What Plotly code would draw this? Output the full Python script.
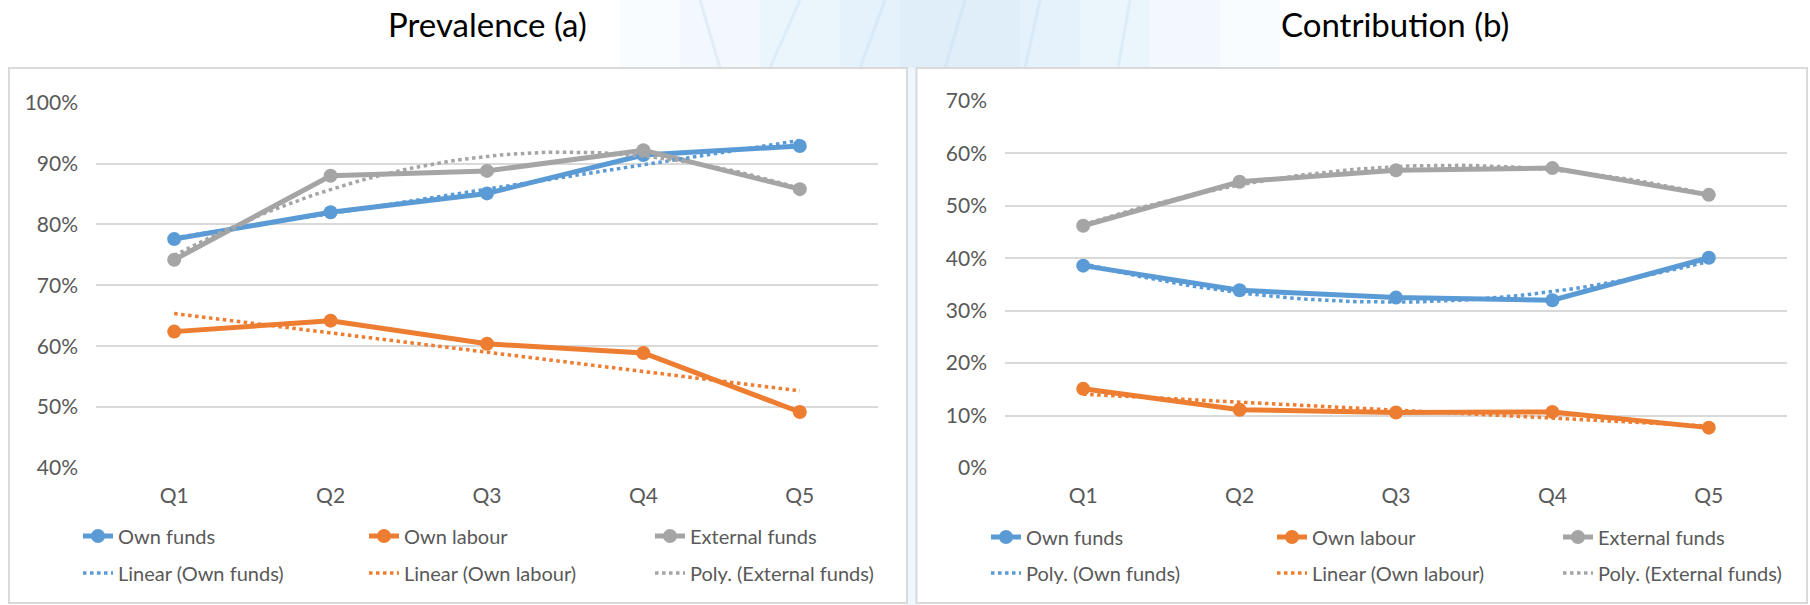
import numpy as np
import plotly.graph_objects as go

# ---------------- data ----------------
quintiles = ["Q1", "Q2", "Q3", "Q4", "Q5"]

prev_own_funds = [77.6, 82.0, 85.1, 91.4, 92.9]
prev_own_labour = [62.4, 64.2, 60.4, 58.9, 49.2]
prev_external = [74.2, 88.0, 88.8, 92.2, 85.8]

contrib_own_funds = [38.6, 33.9, 32.5, 32.0, 40.1]
contrib_own_labour = [15.1, 11.1, 10.6, 10.7, 7.7]
contrib_external = [46.2, 54.6, 56.8, 57.2, 52.1]

prev_ticks = [40, 50, 60, 70, 80, 90, 100]
contrib_ticks = [0, 10, 20, 30, 40, 50, 60, 70]

series_names = ["Own funds", "Own labour", "External funds"]
colors = ["#5B9BD5", "#ED7D31", "#A5A5A5"]

W, H = 1810, 605
FONT = "Lato"


def px(x, y):
    return x / W, 1 - y / H


def trend(values, order):
    """Excel-like least-squares trendline over x = 1..n."""
    n = len(values)
    xs = np.arange(1, n + 1)
    coef = np.polyfit(xs, values, order)
    xd = np.linspace(1, n, 80)
    return xd - 1, np.polyval(coef, xd)


xpos = list(range(len(quintiles)))

fig = go.Figure()

panels = [
    dict(xa="x", ya="y", data=[prev_own_funds, prev_own_labour, prev_external],
         trends=[("Linear", 1), ("Linear", 1), ("Poly.", 2)], lg=("legend", "legend2")),
    dict(xa="x2", ya="y2", data=[contrib_own_funds, contrib_own_labour, contrib_external],
         trends=[("Poly.", 2), ("Linear", 1), ("Poly.", 2)], lg=("legend3", "legend4")),
]

for p in panels:
    for name, vals, col in zip(series_names, p["data"], colors):
        fig.add_trace(go.Scatter(
            x=xpos, y=vals, name=name, mode="lines+markers",
            line=dict(color=col, width=5), marker=dict(color=col, size=14),
            xaxis=p["xa"], yaxis=p["ya"], legend=p["lg"][0],
            hovertemplate="%{y:.1f}%<extra>" + name + "</extra>"))
    for name, vals, col, (kind, order) in zip(series_names, p["data"], colors, p["trends"]):
        tx, ty = trend(vals, order)
        fig.add_trace(go.Scatter(
            x=tx, y=ty, name=f"{kind} ({name})", mode="lines",
            line=dict(color=col, width=3.5, dash="dot"),
            xaxis=p["xa"], yaxis=p["ya"], legend=p["lg"][1], hoverinfo="skip"))

# ---------------- axes ----------------
ydom = [1 - 468 / H, 1 - 102.7 / H]
ydom2 = [1 - 468 / H, 1 - 101 / H]
tickfont = dict(family=FONT, size=21, color="#595959")
common_x = dict(tickmode="array", tickvals=xpos, ticktext=quintiles, range=[-0.5, 4.5],
                showgrid=False, zeroline=False, showline=False, ticks="",
                tickfont=tickfont, ticklabelstandoff=13, fixedrange=True)
common_y = dict(tickmode="array", showgrid=True, gridcolor="#d9d9d9",
                gridwidth=2, zeroline=False, showline=False, ticks="",
                tickfont=tickfont, ticklabelstandoff=17, fixedrange=True)

fig.update_layout(
    xaxis=dict(domain=[96 / W, 878 / W], anchor="y", **common_x),
    yaxis=dict(domain=ydom, anchor="x", range=[40, 100], tickvals=prev_ticks,
               ticktext=[f"{v}%" for v in prev_ticks], **common_y),
    xaxis2=dict(domain=[1005 / W, 1787 / W], anchor="y2", **common_x),
    yaxis2=dict(domain=ydom2, anchor="x2", range=[0, 70], tickvals=contrib_ticks,
                ticktext=[f"{v}%" for v in contrib_ticks], **common_y),
)

# ---------------- legends ----------------
legfont = dict(family=FONT, size=20, color="#595959")


def leg(xp, yp):
    return dict(x=xp / W, y=1 - yp / H, xanchor="left", yanchor="middle",
                orientation="h", font=legfont, bgcolor="rgba(0,0,0,0)",
                entrywidth=241, entrywidthmode="pixels", itemwidth=30,
                itemclick=False, itemdoubleclick=False)


fig.update_layout(
    legend=leg(78, 536), legend2=leg(78, 573),
    legend3=leg(986, 537), legend4=leg(986, 573),
)

# ---------------- background shapes ----------------
shapes = []
# faint, soft watermark above the charts (layered translucent bands)
for (l, r, a) in [(620, 1280, 0.10), (680, 1220, 0.12), (760, 1150, 0.14), (840, 1080, 0.16), (900, 1020, 0.16)]:
    p0 = px(l, 0); p1 = px(r, 68)
    shapes.append(dict(type="rect", xref="paper", yref="paper", x0=p0[0], y0=p1[1], x1=p1[0], y1=p0[1],
                       fillcolor=f"rgba(200,224,246,{a})", line_width=0, layer="below"))
for xa, xb in [(700, 720), (800, 770), (885, 860), (965, 945), (1040, 1025), (1130, 1118)]:
    a = px(xa, 0); b = px(xb, 68)
    shapes.append(dict(type="line", xref="paper", yref="paper", x0=a[0], y0=a[1], x1=b[0], y1=b[1],
                       line=dict(color="rgba(185,214,240,0.30)", width=3), layer="below"))
# gap strip between panels
a = px(907, 68); b = px(916, 605)
shapes.append(dict(type="rect", xref="paper", yref="paper", x0=a[0], y0=b[1], x1=b[0], y1=a[1],
                   fillcolor="rgba(228,240,250,0.6)", line_width=0, layer="below"))
# panel frames
for (l, r) in [(9, 907), (916.5, 1807)]:
    a = px(l, 68); b = px(r, 603)
    shapes.append(dict(type="rect", xref="paper", yref="paper", x0=a[0], y0=b[1], x1=b[0], y1=a[1],
                       fillcolor="white", line=dict(color="#d9d9d9", width=2), layer="below"))
fig.update_layout(shapes=shapes)

# ---------------- titles ----------------
titlefont = dict(family=FONT, size=33, color="#000000")
fig.add_annotation(text="Prevalence (a)", x=487 / W, y=1 - 24 / H, xref="paper", yref="paper",
                   xanchor="center", yanchor="middle", showarrow=False, font=titlefont)
fig.add_annotation(text="Contribution (b)", x=1395 / W, y=1 - 24 / H, xref="paper", yref="paper",
                   xanchor="center", yanchor="middle", showarrow=False, font=titlefont)

fig.update_layout(
    width=W, height=H, margin=dict(l=0, r=0, t=0, b=0, autoexpand=False),
    paper_bgcolor="white", plot_bgcolor="rgba(0,0,0,0)",
    font=dict(family=FONT), hovermode="closest",
)

fig.write_html(
    "out.html",
    config={"displayModeBar": False},
    post_script="document.body.style.margin='0';document.body.style.overflow='hidden';",
)
